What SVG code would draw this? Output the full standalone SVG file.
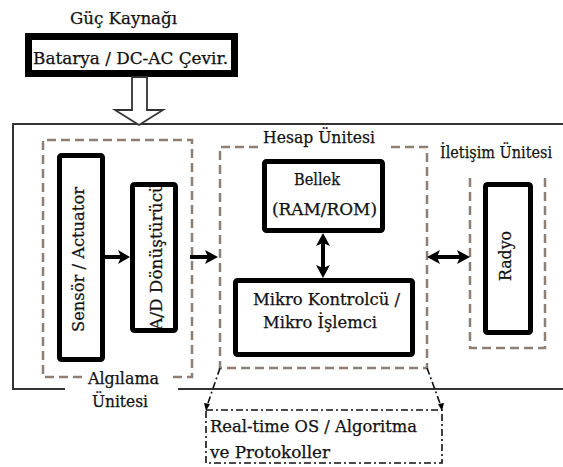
<svg xmlns="http://www.w3.org/2000/svg" width="563" height="467" viewBox="0 0 563 467">
  <defs>
    <style>
      .t { font-family: "DejaVu Serif", "Liberation Serif", serif; font-size: 16px; fill: #111; stroke: #111; stroke-width: 0.25; }
      .blk { fill: #fff; stroke: #000; stroke-width: 5; }
      .dash { fill: none; stroke: #8c7f75; stroke-width: 2.5; stroke-dasharray: 9 5; }
      .frame { fill: none; stroke: #333; stroke-width: 2; }
      .dd { fill: none; stroke: #111; stroke-width: 1.6; stroke-dasharray: 7 3 2 3; }
      .arr { stroke: #000; stroke-width: 4; fill: none; }
      .head { fill: #000; }
    </style>
  </defs>

  <rect width="563" height="467" fill="#fff"/>

  <!-- system frame (open to the right, gap under the sensing label) -->
  <g id="frame">
    <path class="frame" d="M 65 389 L 13 389 L 13 124 L 563 124"/>
    <path class="frame" d="M 178 389 L 563 389"/>
  </g>

  <!-- power supply -->
  <g id="power">
    <text class="t" x="70" y="24" textLength="107" lengthAdjust="spacingAndGlyphs">Güç Kaynağı</text>
    <rect x="28.5" y="36.5" width="206" height="37" fill="#fff" stroke="#000" stroke-width="7"/>
    <text class="t" x="33" y="64" font-size="17" textLength="195" lengthAdjust="spacingAndGlyphs">Batarya / DC-AC Çevir.</text>
    <polygon points="132,77 147,77 147,110 163,110 139,125 115,110 132,110" fill="#fff" stroke="#333" stroke-width="1.8"/>
  </g>

  <!-- sensing unit -->
  <g id="sensing">
    <path class="dash" d="M 82 377 L 43 377 L 43 140 L 192 140 L 192 377 L 173 377"/>
    <text class="t" x="88" y="384" textLength="71" lengthAdjust="spacingAndGlyphs">Algılama</text>
    <text class="t" x="92" y="407" textLength="56" lengthAdjust="spacingAndGlyphs">Ünitesi</text>
  </g>
  <g id="sensor">
    <rect class="blk" x="59.5" y="155.5" width="43" height="204" rx="2"/>
    <text class="t" transform="translate(84 259.5) rotate(-90)" text-anchor="middle" textLength="145" lengthAdjust="spacingAndGlyphs">Sensör / Actuator</text>
  </g>
  <g id="adc">
    <text class="t" transform="translate(162 330) rotate(-90)" textLength="148" lengthAdjust="spacingAndGlyphs">A/D Dönüştürücü</text>
    <rect x="132.5" y="184.5" width="43" height="146" rx="2" fill="none" stroke="#000" stroke-width="5"/>
  </g>

  <!-- computing unit -->
  <g id="computing">
    <path class="dash" d="M 258 147 L 220 147 L 220 368 L 427 368 L 427 147 L 390 147"/>
    <text class="t" x="263" y="143" textLength="112" lengthAdjust="spacingAndGlyphs">Hesap Ünitesi</text>
  </g>
  <g id="memory">
    <rect class="blk" x="264.5" y="161.5" width="118" height="69" rx="2"/>
    <text class="t" x="294" y="185" textLength="46" lengthAdjust="spacingAndGlyphs">Bellek</text>
    <text class="t" x="272" y="215" textLength="105" lengthAdjust="spacingAndGlyphs">(RAM/ROM)</text>
  </g>
  <g id="mcu">
    <rect class="blk" x="235.5" y="280.5" width="177" height="74" rx="2"/>
    <text class="t" x="253" y="305" textLength="147" lengthAdjust="spacingAndGlyphs">Mikro Kontrolcü /</text>
    <text class="t" x="263" y="328" textLength="114" lengthAdjust="spacingAndGlyphs">Mikro İşlemci</text>
  </g>

  <!-- communication unit -->
  <g id="communication">
    <text class="t" x="440" y="158" font-size="13.5" textLength="112" lengthAdjust="spacingAndGlyphs">İletişim Ünitesi</text>
    <path class="dash" d="M 470 178 L 470 348 L 545 348 L 545 178"/>
  </g>
  <g id="radio">
    <rect class="blk" x="485.5" y="184.5" width="45" height="148" rx="2"/>
    <text class="t" transform="translate(511 256) rotate(-90)" text-anchor="middle" textLength="50" lengthAdjust="spacingAndGlyphs">Radyo</text>
  </g>

  <!-- software -->
  <g id="software">
    <rect class="dd" x="206" y="410" width="236" height="53"/>
    <text class="t" x="210" y="432" textLength="207" lengthAdjust="spacingAndGlyphs">Real-time OS / Algoritma</text>
    <text class="t" x="210" y="458" textLength="120" lengthAdjust="spacingAndGlyphs">ve Protokoller</text>
  </g>

  <!-- connectors -->
  <g id="connectors">
    <path class="arr" d="M 105 257 L 121 257"/>
    <polygon class="head" points="130,257 118,250 121,257 118,264"/>
    <path class="arr" d="M 190 257 L 208 257"/>
    <polygon class="head" points="218,257 205,250 208,257 205,264"/>
    <path class="arr" d="M 323 242 L 323 269"/>
    <polygon class="head" points="323,233 316,246 323,243 330,246"/>
    <polygon class="head" points="323,278 316,265 323,268 330,265"/>
    <path class="arr" d="M 437 257 L 460 257"/>
    <polygon class="head" points="427,257 440,250 437,257 440,264"/>
    <polygon class="head" points="470,257 457,250 460,257 457,264"/>
    <path class="dd" d="M 220 368 L 207 406"/>
    <polygon class="head" points="206,411 204,403 210,404"/>
    <path class="dd" d="M 427 368 L 441 406"/>
    <polygon class="head" points="442,411 438,404 444,403"/>
  </g>
</svg>
